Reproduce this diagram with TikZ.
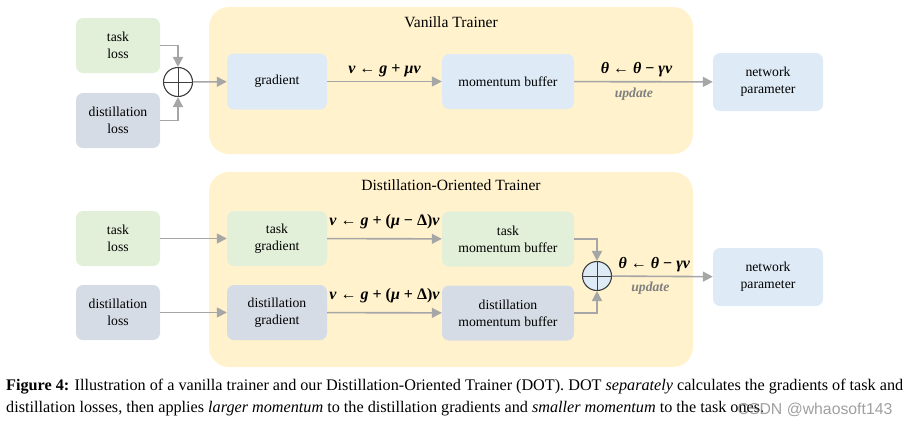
\documentclass[tikz,border=0pt]{standalone}
\usepackage{fontspec}
\setmainfont{Liberation Serif}
\setsansfont{Liberation Sans}
\usetikzlibrary{arrows.meta}
\definecolor{taskcolor}{HTML}{E2F0D9}
\definecolor{distcolor}{HTML}{D6DCE5}
\definecolor{paramcolor}{HTML}{DEEBF7}
\definecolor{trainercolor}{HTML}{FFF2CC}
\definecolor{flowcolor}{HTML}{A6A6A6}
\definecolor{sumcolor}{HTML}{3F3F3F}
\newcommand{\boxfont}{\fontsize{13.7}{17}\selectfont}
% letras de las reglas
\newcommand{\bvar}[1]{\textbf{\textit{#1}}}
\tikzset{
    x=1pt, y=-1pt,
    % --- ESTILOS ---
    block/.style={rounded corners=7pt, align=center, inner sep=1pt, font=\boxfont},
    loss_box/.style={block, minimum width=84pt, minimum height=55pt},
    grad_box/.style={block, minimum width=100pt, minimum height=56pt},
    buffer_box/.style={block, minimum width=132pt, minimum height=55pt},
    param_box/.style={block, fill=paramcolor, minimum width=110pt, minimum height=58pt},
    trainer/.style={fill=trainercolor, rounded corners=20pt},
    title/.style={font=\fontsize{15.6}{18}\selectfont},
    % sumas
    sum_node/.style={circle, draw=sumcolor, line width=1.1pt, minimum size=29pt, inner sep=0pt,
      path picture={\draw[sumcolor, line width=0.8pt]
        (path picture bounding box.north) -- (path picture bounding box.south)
        (path picture bounding box.west) -- (path picture bounding box.east);}},
    % conectores
    flow/.style={draw=flowcolor, line width=1.6pt, -{Triangle[length=10pt,width=10pt]}},
    rule_label/.style={font=\fontsize{16}{18}\selectfont\bfseries, above=3pt, inner sep=1pt},
    update_label/.style={font=\boxfont\bfseries\itshape, text=gray, below=2pt},
    caption_line/.style={anchor=west, inner sep=0pt, font=\fontsize{16.2}{18}\selectfont}
}

\begin{document}
\begin{tikzpicture}
    \useasboundingbox (0,0) rectangle (909,426);

    % Vanilla trainer
    \node[trainer, minimum width=484pt, minimum height=147pt] (vanilla) at (451,80.5) {};
    \node[title] (vanilla_title) at (451,22) {Vanilla Trainer};

    \node[loss_box, fill=taskcolor] (task_loss_a) at (118,45.5) {task\\loss};
    \node[loss_box, fill=distcolor] (dist_loss_a) at (118,120.5) {distillation\\loss};
    \node[sum_node, fill=white] (sum_a) at (178,82) {};
    \node[grad_box, fill=paramcolor] (grad) at (277,81.5) {gradient};
    \node[buffer_box, fill=paramcolor] (buffer) at (508,81.5) {momentum buffer};
    \node[param_box] (param_a) at (768,82) {network\\parameter};

    \draw[flow] (task_loss_a.east) -| (sum_a.north);
    \draw[flow] (dist_loss_a.east) -| (sum_a.south);
    \draw[flow] (sum_a) -- (grad);
    \draw[flow] (grad) -- node[rule_label] {\bvar{v} ← \bvar{g} + \textit{μ}\bvar{v}} (buffer);
    \draw[flow] (buffer) -- node[rule_label, pos=0.45] {\bvar{θ} ← \bvar{θ} − \textit{γ}\bvar{v}}
        node[update_label, pos=0.43] {update} (param_a);

    % Distillation-Oriented trainer
    \node[trainer, minimum width=484pt, minimum height=195pt] (dot) at (451,269.5) {};
    \node[title] (dot_title) at (451,185) {Distillation-Oriented Trainer};

    \node[loss_box, fill=taskcolor] (task_loss_b) at (118,238.5) {task\\loss};
    \node[loss_box, fill=distcolor] (dist_loss_b) at (118,312.5) {distillation\\loss};
    \node[grad_box, fill=taskcolor, minimum height=55pt] (task_grad) at (277,238.5) {task\\gradient};
    \node[grad_box, fill=distcolor, minimum height=55pt] (dist_grad) at (277,312.5) {distillation\\gradient};
    \node[buffer_box, fill=taskcolor] (task_buffer) at (508,239) {task\\momentum buffer};
    \node[buffer_box, fill=distcolor] (dist_buffer) at (508,313) {distillation\\momentum buffer};
    \node[sum_node, fill=paramcolor] (sum_b) at (597,276) {};
    \node[param_box] (param_b) at (768,277) {network\\parameter};

    \draw[flow] (task_loss_b) -- (task_grad);
    \draw[flow] (dist_loss_b) -- (dist_grad);
    \draw[flow] (task_grad) -- node[rule_label, above=5pt] {\bvar{v} ← \bvar{g} + (\textit{μ} − Δ)\bvar{v}} (task_buffer);
    \draw[flow] (dist_grad) -- node[rule_label, above=5pt] {\bvar{v} ← \bvar{g} + (\textit{μ} + Δ)\bvar{v}} (dist_buffer);
    \draw[flow] (task_buffer.east) -| (sum_b.north);
    \draw[flow] (dist_buffer.east) -| (sum_b.south);
    \draw[flow] (sum_b) -- node[rule_label, pos=0.42] {\bvar{θ} ← \bvar{θ} − \textit{γ}\bvar{v}}
        node[update_label, pos=0.38] {update} (param_b);

    % caption
    \node[caption_line] (cap_a) at (6,387) {\hbox to 897pt{\textbf{Figure 4:} Illustration of a vanilla trainer and our Distillation-Oriented Trainer (DOT). DOT \textit{separately} calculates the gradients of task and}};
    \node[caption_line] (cap_b) at (6,409) {distillation losses, then applies \textit{larger momentum} to the distillation gradients and \textit{smaller momentum} to the task ones.};
    \node[font=\sffamily\fontsize{15.8}{18}\selectfont, text=gray, opacity=0.75, inner sep=0pt] (mark) at (815,410) {CSDN @whaosoft143};
\end{tikzpicture}
\end{document}
